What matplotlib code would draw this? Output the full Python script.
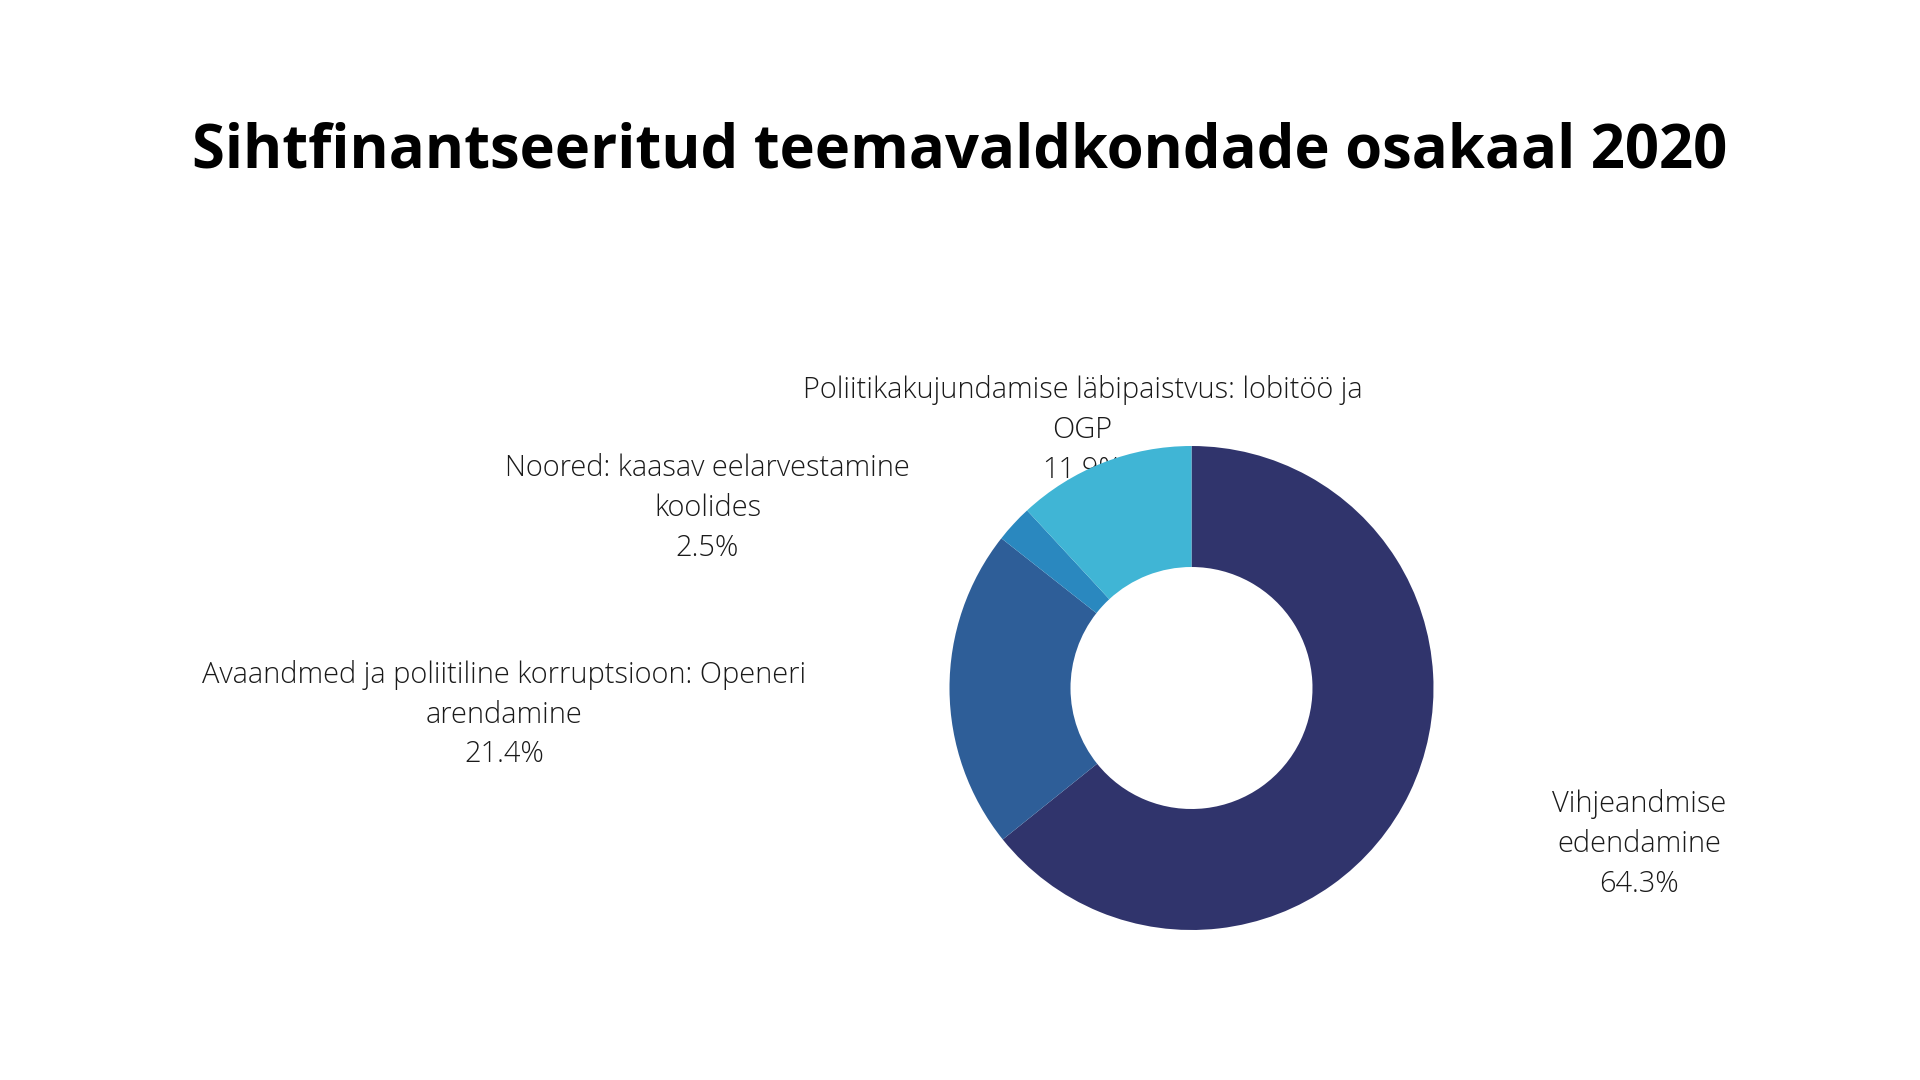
import matplotlib.pyplot as plt

# data
kategooriad = [
    'Vihjeandmise\nedendamine',
    'Avaandmed ja poliitiline korruptsioon: Openeri\narendamine',
    'Noored: kaasav eelarvestamine\nkoolides',
    'Poliitikakujundamise läbipaistvus: lobitöö ja\nOGP',
]
osakaal = [64.3, 21.4, 2.5, 11.9]
varvid = ['#30346c', '#2e5e98', '#2a88bf', '#40b5d5']

# label positions (in units of the pie radius, relative to the centre)
sildi_kohad = [(1.85, -0.645), (-2.84, -0.11), (-2.0, 0.742), (-0.45, 1.065)]

plt.rcParams['font.family'] = ['Open Sans', 'DejaVu Sans']

fig = plt.figure(figsize=(19.2, 10.8), dpi=100)
fig.patch.set_facecolor('white')

# axes over the whole figure, 1 unit = 242 px, centre at (1191.5, 688 from top)
ax = fig.add_axes([0, 0, 1, 1])
r_px = 242
cx, cy = 1191.5, 1080 - 688

wedges, _ = ax.pie(osakaal, colors=varvid, startangle=90, counterclock=False,
                   radius=1, wedgeprops=dict(width=0.5, linewidth=0))
for w in wedges:
    w.set_zorder(3)

ax.set_xlim(-cx / r_px, (1920 - cx) / r_px)
ax.set_ylim(-cy / r_px, (1080 - cy) / r_px)
ax.set_aspect('equal')
ax.axis('off')

for nimi, vaartus, (x, y) in zip(kategooriad, osakaal, sildi_kohad):
    ax.text(x, y, f'{nimi}\n{vaartus}%', ha='center', va='center',
            fontsize=20.9, fontweight='light', color='#1a1a1a',
            linespacing=1.46, zorder=1)

fig.text(0.5, 1 - 168 / 1080, 'Sihtfinantseeritud teemavaldkondade osakaal 2020',
         ha='center', va='baseline', fontsize=43, fontweight='bold', color='black')

fig.savefig('out.png', dpi=100)
